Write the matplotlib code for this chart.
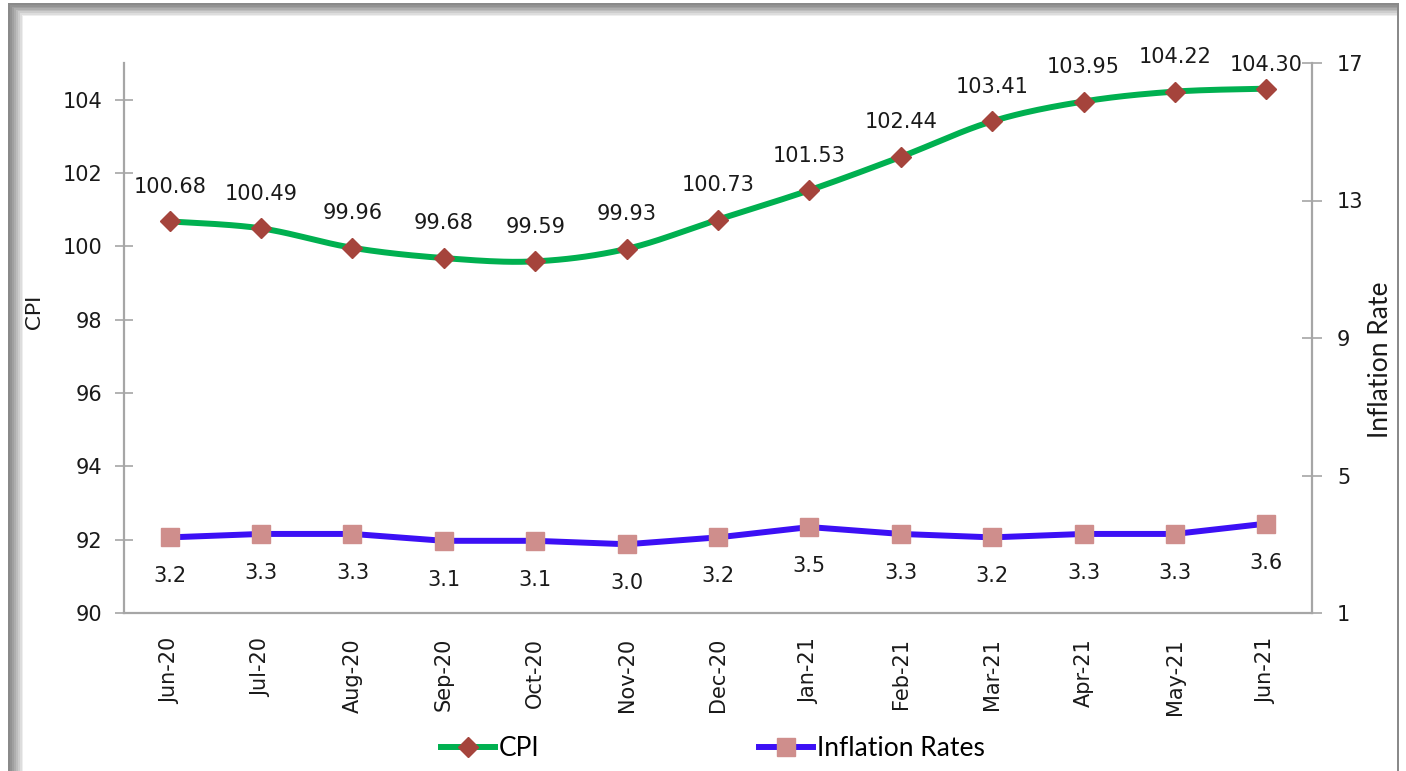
import matplotlib
matplotlib.use("Agg")
import matplotlib.pyplot as plt
from matplotlib.patches import Rectangle
from matplotlib.lines import Line2D
import numpy as np

months = ["Jun-20", "Jul-20", "Aug-20", "Sep-20", "Oct-20", "Nov-20", "Dec-20",
          "Jan-21", "Feb-21", "Mar-21", "Apr-21", "May-21", "Jun-21"]
cpi = [100.68, 100.49, 99.96, 99.68, 99.59, 99.93, 100.73,
       101.53, 102.44, 103.41, 103.95, 104.22, 104.30]
inflation = [3.2, 3.3, 3.3, 3.1, 3.1, 3.0, 3.2, 3.5, 3.3, 3.2, 3.3, 3.3, 3.6]

W, H = 1406, 771
GREEN = "#00b050"
DIAMOND = "#a5443c"
BLUE = "#3c10f5"
SQUARE = "#cf8e8c"
AXIS = "#a6a6a6"
TXT = "#1a1a1a"
FS = 15


def smooth(x, y, n=20):
    # Excel-style smoothed line (bezier through the points)
    x = np.asarray(x, float)
    y = np.asarray(y, float)
    px = np.concatenate([[x[0]], x, [x[-1]]])
    py = np.concatenate([[y[0]], y, [y[-1]]])
    xs, ys = [], []
    t = np.linspace(0, 1, n, endpoint=False)
    for i in range(1, len(px) - 2):
        p0, p1, p2, p3 = px[i - 1], px[i], px[i + 1], px[i + 2]
        q0, q1, q2, q3 = py[i - 1], py[i], py[i + 1], py[i + 2]
        bx = [p1, p1 + (p2 - p0) / 6, p2 - (p3 - p1) / 6, p2]
        by = [q1, q1 + (q2 - q0) / 6, q2 - (q3 - q1) / 6, q2]
        for b, out in ((bx, xs), (by, ys)):
            out.extend((1 - t) ** 3 * b[0] + 3 * (1 - t) ** 2 * t * b[1]
                       + 3 * (1 - t) * t ** 2 * b[2] + t ** 3 * b[3])
    xs.append(x[-1])
    ys.append(y[-1])
    return np.array(xs), np.array(ys)


fig = plt.figure(figsize=(W / 100, H / 100), dpi=100)
fig.patch.set_facecolor("white")


# shadowed frame
def px_rect(x0, y0, x1, y1, color, z=-10):
    fig.add_artist(Rectangle((x0 / W, 1 - y1 / H), (x1 - x0) / W, (y1 - y0) / H,
                             transform=fig.transFigure, facecolor=color,
                             edgecolor="none", zorder=z))


px_rect(8, 3, 1399, H + 5, "#8a8a8a", -12)
shades = ["#939393", "#a0a0a0", "#aeaeae", "#bdbdbd", "#cdcdcd", "#dddddd", "#eeeeee"]
for k, c in enumerate(shades):
    px_rect(10 + 2 * k, 5 + 1.6 * k, 1397, H + 5, c, -11 + k * 0.01)
px_rect(23, 16, 1397, H + 5, "white", -10)

ax = fig.add_axes([124 / W, 1 - 613 / H, (1312 - 124) / W, (613 - 63) / H])
ax.set_facecolor("none")
ax2 = ax.twinx()

x = np.arange(len(months))

sx, sy = smooth(x, cpi)
ax.plot(sx, sy, color=GREEN, lw=4.3, zorder=3, solid_capstyle="round")
ax.plot(x, cpi, ls="none", marker="D", ms=10.5, color=DIAMOND, zorder=4)

ax2.plot(x, inflation, color=BLUE, lw=4.3, zorder=3, solid_joinstyle="round")
ax2.plot(x, inflation, ls="none", marker="s", ms=12.5, color=SQUARE, zorder=4)

label_nudge = {12: -8}
for i, v in enumerate(cpi):
    ax.annotate(f"{v:.2f}", (i, v), xytext=(0, 25 + label_nudge.get(i, 0)),
                textcoords="offset points", ha="center", va="center",
                fontsize=FS, color=TXT, zorder=5)
for i, v in enumerate(inflation):
    ax2.annotate(f"{v:.1f}", (i, v), xytext=(0, -28), textcoords="offset points",
                 ha="center", va="center", fontsize=FS, color=TXT, zorder=5)

ax.set_xlim(-0.5, len(months) - 0.5)
ax.set_ylim(90, 105)
ax2.set_ylim(1, 17)
ax.set_yticks(np.arange(90, 105, 2))
ax2.set_yticks([1, 5, 9, 13, 17])
ax.set_xticks(x)
ax.set_xticklabels(months, rotation=90, fontsize=FS, color=TXT)

for a in (ax, ax2):
    a.spines["top"].set_visible(False)
    for s in a.spines.values():
        s.set_color(AXIS)
        s.set_linewidth(1.6)
ax.spines["right"].set_visible(False)
ax2.spines["left"].set_visible(False)
ax2.spines["bottom"].set_visible(False)

ax.tick_params(axis="y", direction="inout", length=13, width=1.2, color=AXIS,
               labelsize=FS, labelcolor=TXT, pad=9)
ax2.tick_params(axis="y", direction="inout", length=14, width=1.2, color=AXIS,
                labelsize=FS, labelcolor=TXT, pad=11)
ax.tick_params(axis="x", length=0, pad=18)

ax.set_ylabel("CPI", fontsize=16, family="Lato", color=TXT)
ax.yaxis.set_label_coords(-80 / 1188, (613 - 312) / 550)
ax2.set_ylabel("Inflation Rate", fontsize=19, family="Lato", color=TXT)
ax2.yaxis.set_label_coords(1 + 56 / 1188, (613 - 360) / 550)

handles = [
    Line2D([], [], color=GREEN, lw=4.3, marker="D", ms=10.5, mfc=DIAMOND, mec=DIAMOND),
    Line2D([], [], color=BLUE, lw=4.3, marker="s", ms=12.5, mfc=SQUARE, mec=SQUARE),
]
fig.legend(handles, ["CPI", "Inflation Rates"], loc="center", ncol=2,
           bbox_to_anchor=(0.507, 0.029), frameon=False, handlelength=2.05,
           handletextpad=0.15, columnspacing=8.3, borderaxespad=0,
           prop={"family": "Lato", "size": 19})

fig.savefig("out.png", dpi=100)
